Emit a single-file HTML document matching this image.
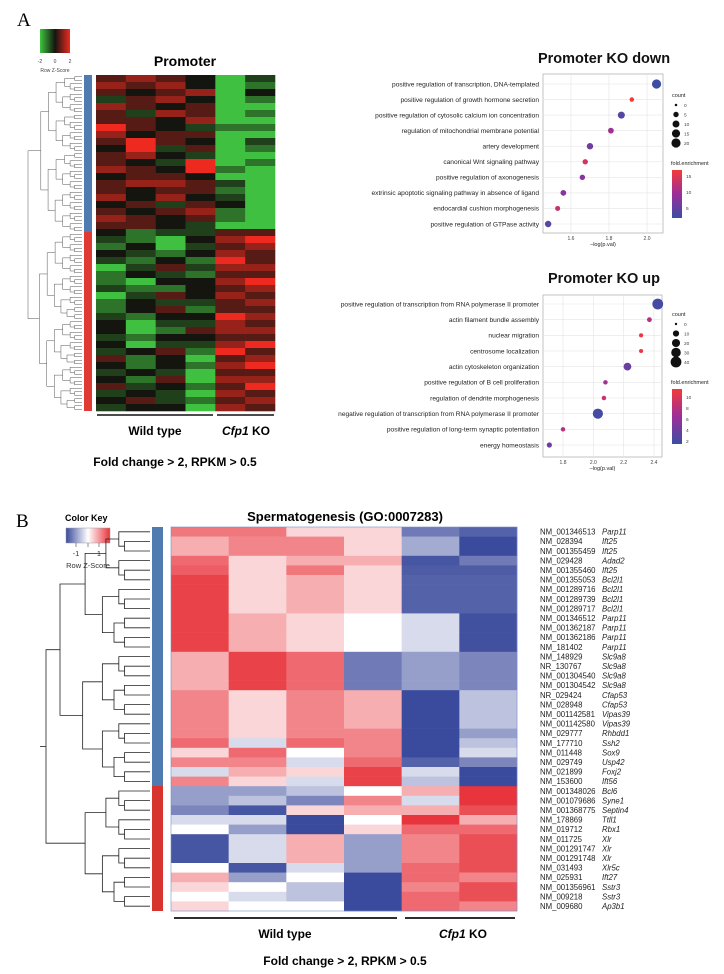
<!DOCTYPE html>
<html><head><meta charset="utf-8"><style>
body{margin:0;background:#fff;}
svg{display:block;font-family:"Liberation Sans",Arial,sans-serif;}
</style></head><body>
<svg id="fig" width="724" height="974" viewBox="0 0 724 974" xmlns="http://www.w3.org/2000/svg">
<rect width="724" height="974" fill="#fff"/>
<text x="17" y="26" font-family="Liberation Serif,serif" font-size="19">A</text>
<text x="16" y="527" font-family="Liberation Serif,serif" font-size="19">B</text>

<g>
<defs>
<linearGradient id="gk" x1="0" x2="1"><stop offset="0" stop-color="#3ec43e"/><stop offset="0.5" stop-color="#151510"/><stop offset="1" stop-color="#f02a20"/></linearGradient>
<linearGradient id="bk" x1="0" x2="1"><stop offset="0" stop-color="#3a4a9c"/><stop offset="0.5" stop-color="#ffffff"/><stop offset="1" stop-color="#e8343c"/></linearGradient>
<linearGradient id="fe" x1="0" x2="0" y1="1" y2="0"><stop offset="0" stop-color="#3b4ea3"/><stop offset="0.5" stop-color="#9b2f9a"/><stop offset="1" stop-color="#f33a3a"/></linearGradient>
</defs>
<rect x="40" y="29" width="30" height="24" fill="url(#gk)"/>
<text x="40" y="63" font-size="5" text-anchor="middle" fill="#444">-2</text>
<text x="55" y="63" font-size="5" text-anchor="middle" fill="#444">0</text>
<text x="70" y="63" font-size="5" text-anchor="middle" fill="#444">2</text>
<text x="55" y="72" font-size="5" text-anchor="middle" fill="#444">Row Z-Score</text>
</g>
<text x="185" y="66" font-size="14" font-weight="bold" text-anchor="middle">Promoter</text>
<g id="topHeat"></g>
<g id="topDend" stroke="#555" stroke-width="0.5" fill="none"></g>
<rect x="84" y="75" width="8" height="157" fill="#4f7bb0"/>
<rect x="84" y="232" width="8" height="179" fill="#e03a35"/>
<line x1="97" y1="415" x2="213" y2="415" stroke="#111" stroke-width="1.6"/>
<line x1="217" y1="415" x2="274" y2="415" stroke="#111" stroke-width="1.6"/>
<text x="155" y="435" font-size="12" font-weight="bold" text-anchor="middle">Wild type</text>
<text x="246" y="435" font-size="12" font-weight="bold" text-anchor="middle"><tspan font-style="italic">Cfp1</tspan> KO</text>
<text x="175" y="466" font-size="12" font-weight="bold" text-anchor="middle">Fold change &gt; 2, RPKM &gt; 0.5</text>

<g id="dot1"></g>
<g id="dot2"></g>

<g>
<text x="65" y="521" font-size="9" font-weight="bold">Color Key</text>
<rect x="66" y="528" width="44" height="15" fill="url(#bk)" stroke="#999" stroke-width="0.5"/>
<line x1="76" y1="543" x2="76" y2="547" stroke="#444" stroke-width="0.6"/><line x1="88" y1="543" x2="88" y2="547" stroke="#444" stroke-width="0.6"/><line x1="99" y1="543" x2="99" y2="547" stroke="#444" stroke-width="0.6"/>
<text x="76" y="556" font-size="7.5" text-anchor="middle" fill="#333">-1</text>
<text x="99" y="556" font-size="7.5" text-anchor="middle" fill="#333">1</text>
<text x="88" y="568" font-size="7.5" text-anchor="middle" fill="#333">Row Z-Score</text>
</g>
<text x="345" y="521" font-size="13" font-weight="bold" text-anchor="middle">Spermatogenesis (GO:0007283)</text>
<g id="botHeat"></g>
<g id="botLabels" font-size="7.8" fill="#222"></g>
<g id="botDend" stroke="#222" stroke-width="0.8" fill="none"></g>
<rect x="152" y="527" width="11" height="259" fill="#4f7bb0"/>
<rect x="152" y="786" width="11" height="125" fill="#d8342f"/>
<line x1="174" y1="918" x2="397" y2="918" stroke="#111" stroke-width="1.8"/>
<line x1="405" y1="918" x2="515" y2="918" stroke="#111" stroke-width="1.8"/>
<text x="285" y="938" font-size="12" font-weight="bold" text-anchor="middle">Wild type</text>
<text x="463" y="938" font-size="12" font-weight="bold" text-anchor="middle"><tspan font-style="italic">Cfp1</tspan> KO</text>
<text x="345" y="965" font-size="12" font-weight="bold" text-anchor="middle">Fold change &gt; 2, RPKM &gt; 0.5</text>
</svg>
<script>
// ---------- data ----------
const topRowCodes = ["drdkGh","rdrkGg","dkdrGk","hdrkGg","rdkdGG","dhrdGg","ddkrGG","Rdkhgg","rkddGG","dRdkGh","kRhdGg","drkhGG","dkhRGg","rdkRgG","kddkGG","drrdhG","dkddgG","rkrkhG","kdhdkG","dkdrgG","rdkdgG","ddkhGG",
"kghhdd","hgGkrR","gkGhdr","khgkrd","hgkgRd","Ghdhrr","gkhgdd","gGkkrR","hggkdr","Ghdkrd","gkhhdr","gkdgdd","hgkkRr","kGhhrd","kGgdrr","hgkkdd","kGhhrR","hkdgRd","dgkGdr","kgkgrR","hkhGdd","kgdGrr","dhkgdR","hkhGrd","kdhgdr","hkkGrd"];
const topCodeValues = {G:-2,g:-1.1,h:-0.5,k:0,d:0.6,r:1.2,R:2};

const geneIds = ["NM_001346513","NM_028394","NM_001355459","NM_029428","NM_001355460","NM_001355053","NM_001289716","NM_001289739","NM_001289717","NM_001346512","NM_001362187","NM_001362186","NM_181402","NM_148929","NR_130767","NM_001304540","NM_001304542","NR_029424","NM_028948","NM_001142581","NM_001142580","NM_029777","NM_177710","NM_011448","NM_029749","NM_021899","NM_153600","NM_001348026","NM_001079686","NM_001368775","NM_178869","NM_019712","NM_011725","NM_001291747","NM_001291748","NM_031493","NM_025931","NM_001356961","NM_009218","NM_009680"];
const geneNames = ["Parp11","Ift25","Ift25","Adad2","Ift25","Bcl2l1","Bcl2l1","Bcl2l1","Bcl2l1","Parp11","Parp11","Parp11","Parp11","Slc9a8","Slc9a8","Slc9a8","Slc9a8","Cfap53","Cfap53","Vipas39","Vipas39","Rhbdd1","Ssh2","Sox9","Usp42","Foxj2","Ift56","Bcl6","Syne1","Septin4","Ttll1","Rbx1","Xlr","Xlr","Xlr","Xlr5c","Ift27","Sstr3","Sstr3","Ap3b1"];
const zScores = [
[1.0,1.0,0.3,0.3,-1.1,-1.3],[0.6,0.9,0.9,0.3,-0.7,-1.5],[0.6,0.9,0.9,0.3,-0.7,-1.5],[1.1,0.3,0.6,0.6,-1.4,-1.1],[1.2,0.3,1.0,0.3,-1.35,-1.35],
[1.4,0.3,0.6,0.3,-1.3,-1.3],[1.4,0.3,0.6,0.3,-1.3,-1.3],[1.4,0.3,0.6,0.3,-1.3,-1.3],[1.4,0.3,0.6,0.3,-1.3,-1.3],
[1.4,0.6,0.3,0,-0.3,-1.45],[1.4,0.6,0.3,0,-0.3,-1.45],[1.4,0.6,0.3,0,-0.3,-1.45],[1.4,0.6,0.3,0,-0.3,-1.45],
[0.6,1.4,1.1,-1.1,-0.8,-1.0],[0.6,1.4,1.1,-1.1,-0.8,-1.0],[0.6,1.4,1.1,-1.1,-0.8,-1.0],[0.6,1.4,1.1,-1.1,-0.8,-1.0],
[0.9,0.3,0.9,0.6,-1.5,-0.5],[0.9,0.3,0.9,0.6,-1.5,-0.5],[0.9,0.3,0.9,0.6,-1.5,-0.5],[0.9,0.3,0.9,0.6,-1.5,-0.5],
[0.9,0.3,0.9,0.9,-1.5,-0.8],[1.1,-0.3,1.1,0.9,-1.5,-0.5],[0.3,1.1,0,0.9,-1.5,-0.3],[0.9,0.9,-0.3,1.1,-1.3,-1.0],
[-0.3,0.6,0.3,1.4,-0.3,-1.5],[0.9,0.3,-0.3,1.4,-0.5,-1.5],
[-0.8,-0.8,-0.5,0,0.6,1.6],[-0.8,-0.5,-1.0,0.9,-0.3,1.5],[-1.0,-1.4,0.3,0.6,0.6,1.3],[-0.3,-0.3,-1.5,0,1.5,0.6],[0,-0.8,-1.5,0.3,1.1,1.1],
[-1.4,-0.3,0.6,-0.8,0.9,1.3],[-1.4,-0.3,0.6,-0.8,0.9,1.3],[-1.4,-0.3,0.6,-0.8,0.9,1.3],[0,-1.4,-0.3,-0.8,1.1,1.3],
[0.6,-0.8,0,-1.5,1.1,0.9],[0.3,0,-0.5,-1.5,0.9,1.3],[0,-0.3,-0.5,-1.5,1.1,1.3],[0.3,0,0,-1.5,1.1,0.9]];

const downTerms = ["positive regulation of transcription, DNA-templated","positive regulation of growth hormone secretion","positive regulation of cytosolic calcium ion concentration","regulation of mitochondrial membrane potential","artery development","canonical Wnt signaling pathway","positive regulation of axonogenesis","extrinsic apoptotic signaling pathway in absence of ligand","endocardial cushion morphogenesis","positive regulation of GTPase activity"];
const downLogP = [2.05,1.92,1.865,1.81,1.70,1.675,1.66,1.56,1.53,1.48];
const downCount = [20,3,10,6,8,5,5,6,4,8];
const downFold = [2,17,4,10,6,14,8,8,13,4];
const downXTicks = [1.6,1.8,2.0];
const downCountTicks = [0,5,10,15,20];
const downFoldTicks = [5,10,15];

const upTerms = ["positive regulation of transcription from RNA polymerase II promoter","actin filament bundle assembly","nuclear migration","centrosome localization","actin cytoskeleton organization","positive regulation of B cell proliferation","regulation of dendrite morphogenesis","negative regulation of transcription from RNA polymerase II promoter","positive regulation of long-term synaptic potentiation","energy homeostasis"];
const upLogP = [2.425,2.37,2.315,2.315,2.225,2.08,2.07,2.03,1.80,1.71];
const upCount = [40,5,3,3,18,4,4,35,4,6];
const upFold = [2,8,11,11,4,7,9,2,8,4];
const upXTicks = [1.8,2.0,2.2,2.4];
const upCountTicks = [0,10,20,30,40];
const upFoldTicks = [2,4,6,8,10];

// ---------- helpers ----------
const NS="http://www.w3.org/2000/svg";
function mk(tag,attrs,parent){const e=document.createElementNS(NS,tag);for(const k in attrs)e.setAttribute(k,attrs[k]);parent.appendChild(e);return e;}
function lerp(a,b,t){return a.map((v,i)=>Math.round(v+(b[i]-v)*t));}
function rgb(c){return "rgb("+c.join(",")+")";}
function greenRed(z){const k=[21,21,16];if(z<0)return rgb(lerp(k,[64,192,64],Math.min(1,-z/2)));return rgb(lerp(k,[238,42,32],Math.min(1,z/2)));}
function blueRed(z){const w=[255,255,255];if(z<0)return rgb(lerp(w,[58,74,156],Math.min(1,-z/1.5)));return rgb(lerp(w,[232,52,60],Math.min(1,z/1.5)));}
function foldColor(t){t=Math.max(0,Math.min(1,t));const a=[59,78,163],m=[155,47,154],b=[243,58,58];return t<0.5?rgb(lerp(a,m,t*2)):rgb(lerp(m,b,(t-0.5)*2));}

// ---------- top heatmap ----------
(function(){
 const g=document.getElementById('topHeat');
 const x0=96,x1=275,y0=75,y1=411,nc=6,cw=(x1-x0)/nc;
 const rh=(y1-y0)/topRowCodes.length;
 topRowCodes.forEach((code,r)=>{
  for(let c=0;c<nc;c++){
   const z=topCodeValues[code[c]];
   const el=mk('rect',{x:x0+c*cw,y:y0+r*rh,width:cw+0.3,height:rh+0.3,fill:greenRed(z)},g);
   
   
  }
 });
 const d=document.getElementById('topDend');
 const leaves=96, ly=y0, lh=(y1-y0)/leaves;
 function tree(a,b,depth){
  const yc=ly+(a+b)/2*lh;
  if(b-a<=1){return {y:yc,x:82};}
  const m=Math.floor((a+b)/2);
  const L=tree(a,m,depth+1),R=tree(m,b,depth+1);
  const x=Math.max(28,82-Math.log2(b-a)*7.5-(depth===0?15:0));
  mk('path',{d:`M${L.x},${L.y}H${x}V${R.y}H${R.x}`},d);
  return {y:(L.y+R.y)/2,x:x};
 }
 const s=Math.round(leaves*157/336);
 const A=tree(0,s,1),B=tree(s,leaves,1);
 mk('path',{d:`M${A.x},${A.y}H28V${B.y}H${B.x}`},d);
})();

// ---------- bottom heatmap ----------
(function(){
 const g=document.getElementById('botHeat'),lab=document.getElementById('botLabels');
 const x0=171,x1=517,y0=527,y1=911,nc=6,cw=(x1-x0)/nc,rh=(y1-y0)/zScores.length;
 zScores.forEach((row,r)=>{
  row.forEach((z,c)=>{
   const el=mk('rect',{x:x0+c*cw,y:y0+r*rh,width:cw+0.3,height:rh+0.3,fill:blueRed(z)},g);
   
   
  });
  const yc=y0+(r+0.5)*rh+2.8;
  const t1=mk('text',{x:540,y:yc},lab);t1.textContent=geneIds[r];
  
  
  const t2=mk('text',{x:602,y:yc,'font-style':'italic'},lab);t2.textContent=geneNames[r];
  
  
 });
 mk('rect',{x:x0,y:y0,width:x1-x0,height:y1-y0,fill:'none',stroke:'#7a90c8','stroke-width':0.6},g);
 const d=document.getElementById('botDend');
 function tree(a,b,xmin){
  if(b-a===1)return {y:y0+(a+0.5)*rh,x:150};
  const m=Math.floor((a+b)/2);
  const L=tree(a,m,xmin),R=tree(m,b,xmin);
  const x=Math.max(xmin,150-Math.sqrt(b-a)*18);
  mk('path',{d:`M${L.x},${L.y}H${x}V${R.y}H${R.x}`},d);
  return {y:(L.y+R.y)/2,x:x};
 }
 const A=tree(0,27,60),B=tree(27,40,60);
 mk('path',{d:`M${A.x},${A.y}H46V${B.y}H${B.x}`},d);
 mk('line',{x1:46,y1:(A.y+B.y)/2,x2:40,y2:(A.y+B.y)/2},d);
})();

// ---------- dot plots ----------
function dotPlot(id,o){
 const g=document.getElementById(id);
 const xs=v=>o.px0+(v-o.d0)/(o.d1-o.d0)*(o.px1-o.px0);
 const n=o.terms.length, ys=i=>o.yf+i*(o.yl-o.yf)/(n-1);
 const t=mk('text',{x:604,y:o.titleY,'font-size':14.5,'font-weight':'bold','text-anchor':'middle',fill:'#111'},g);t.textContent=o.title;
 
 
 mk('rect',{x:o.px0,y:o.py0,width:o.px1-o.px0,height:o.py1-o.py0,fill:'#fff',stroke:'#aaa','stroke-width':0.7},g);
 o.ticks.forEach(v=>{
  mk('line',{x1:xs(v),x2:xs(v),y1:o.py0,y2:o.py1,stroke:'#e4e4e4','stroke-width':0.6},g);
  const tx=mk('text',{x:xs(v),y:o.py1+7,'font-size':5,'text-anchor':'middle',fill:'#444'},g);tx.textContent=v.toFixed(1);
  
  
 });
 const xl=mk('text',{x:(o.px0+o.px1)/2,y:o.py1+13,'font-size':5.5,'text-anchor':'middle',fill:'#222'},g);xl.textContent='\u2013log(p.val)';
 
 
 const rad=c=>0.8+Math.sqrt(c/o.cmax)*o.rmax;
 o.terms.forEach((term,i)=>{
  mk('line',{x1:o.px0,x2:o.px1,y1:ys(i),y2:ys(i),stroke:'#e4e4e4','stroke-width':0.6},g);
  const lb=mk('text',{x:o.px0-4,y:ys(i)+2.3,'font-size':6.6,'text-anchor':'end',fill:'#222'},g);lb.textContent=term;
  
  
 });
 o.terms.forEach((term,i)=>{
  const c=mk('circle',{cx:xs(o.logp[i]),cy:ys(i),r:rad(o.count[i]),fill:foldColor((o.fold[i]-o.fmin)/(o.fmax-o.fmin))},g);
  
  
 });
 const ct=mk('text',{x:672,y:o.legY,'font-size':5.5,fill:'#222'},g);ct.textContent='count';
 
 
 o.cticks.forEach((v,i)=>{
  const yy=o.legY+8+i*9.5;
  mk('circle',{cx:676,cy:yy,r:rad(Math.max(v,0.3)),fill:'#111'},g);
  const tx=mk('text',{x:684,y:yy+1.8,'font-size':4.8,fill:'#444'},g);tx.textContent=v;
  
  
 });
 const ft=mk('text',{x:671,y:o.fY,'font-size':5.5,fill:'#222'},g);ft.textContent='fold.enrichment';
 
 
 const cb0=o.fY+5,cb1=o.fY+5+o.cbH;
 mk('rect',{x:672,y:cb0,width:10,height:o.cbH,fill:'url(#fe)'},g);
 o.fticks.forEach(v=>{
  const yy=cb1-(v-o.fmin)/(o.fmax-o.fmin)*o.cbH;
  const tx=mk('text',{x:686,y:yy+1.8,'font-size':4.8,fill:'#444'},g);tx.textContent=v;
  
  
 });
}
dotPlot('dot1',{title:'Promoter KO down',titleY:63,terms:downTerms,logp:downLogP,count:downCount,fold:downFold,
 ticks:downXTicks,cticks:downCountTicks,fticks:downFoldTicks,px0:543,px1:663,py0:74,py1:233,d0:1.453,d1:2.084,yf:84,yl:224,
 cmax:20,rmax:3.8,fmin:2,fmax:17,legY:97,fY:165,cbH:48});
dotPlot('dot2',{title:'Promoter KO up',titleY:283,terms:upTerms,logp:upLogP,count:upCount,fold:upFold,
 ticks:upXTicks,cticks:upCountTicks,fticks:upFoldTicks,px0:543,px1:662,py0:295,py1:457,d0:1.668,d1:2.453,yf:304,yl:445,
 cmax:40,rmax:4.6,fmin:1.5,fmax:11.5,legY:316,fY:384,cbH:55});
</script>
</body></html>
